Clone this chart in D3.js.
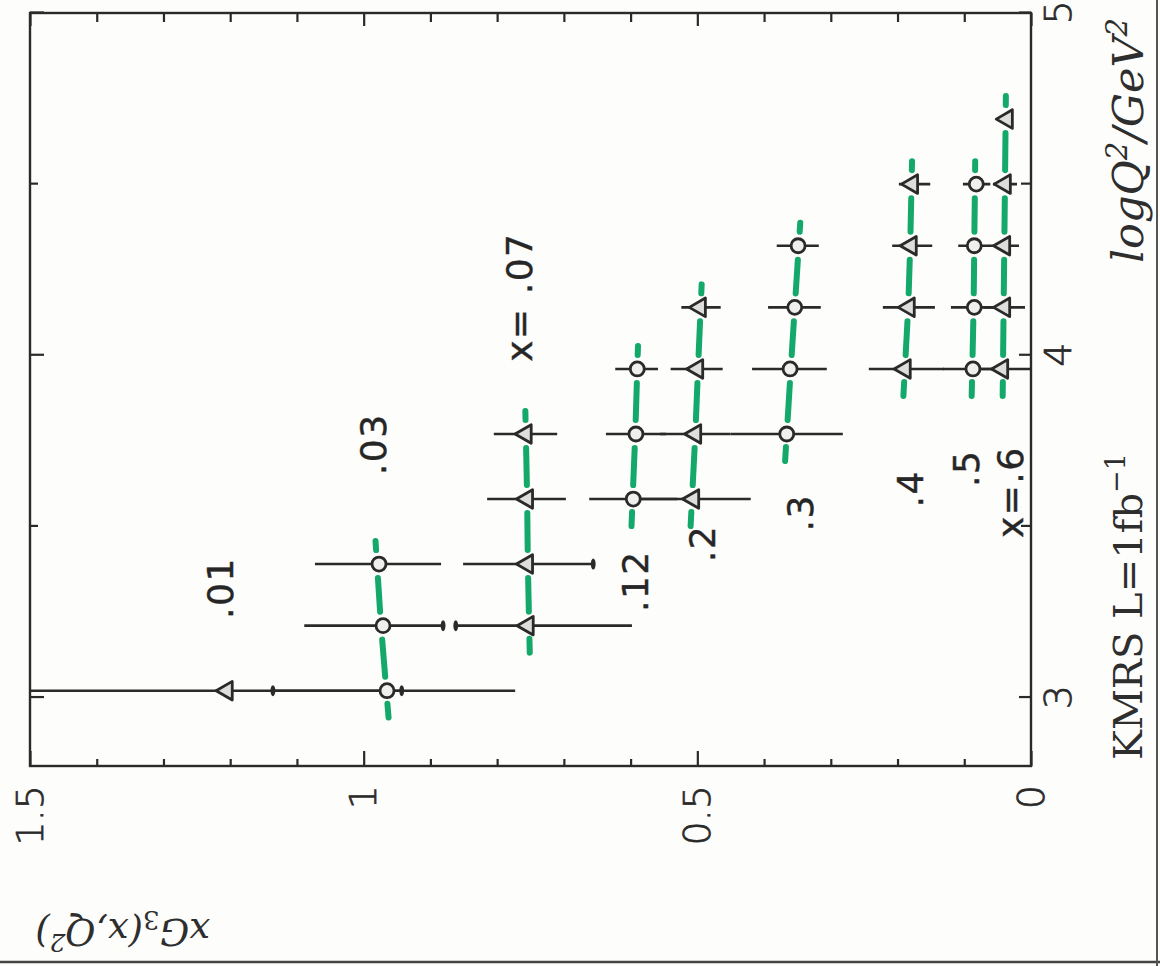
<!DOCTYPE html>
<html>
<head>
<meta charset="UTF-8">
<title>xG3(x,Q2) KMRS L=1fb-1</title>
<script src="https://d3js.org/d3.v7.min.js"></script>
<style>
  body { margin: 0; background: #fdfdfb; }
  svg { display: block; }
</style>
</head>
<body>
<div id="chart"></div>
<script>
// x bins, marker type per bin, label text and where it sits (logQ2, xG3)
const binLabels = [".01", ".03", "x= .07", ".12", ".2", ".3", ".4", ".5", "x=.6"];
const binMarker = ["tri", "circ", "tri", "circ", "tri", "circ", "tri", "circ", "tri"];
const labelQ = [3.32, 3.74, 4.17, 3.34, 3.45, 3.54, 3.61, 3.67, 3.60];
const labelV = [1.215, 0.985, 0.766, 0.592, 0.493, 0.346, 0.181, 0.096, 0.030];

// data points: logQ2 per bin, xG3 value, error bar low / high end
const binQ = [
  [3.02],
  [3.02, 3.21, 3.39],
  [3.21, 3.39, 3.58, 3.77],
  [3.58, 3.77, 3.96],
  [3.58, 3.77, 3.96, 4.14],
  [3.77, 3.96, 4.14, 4.32],
  [3.96, 4.14, 4.32, 4.50],
  [3.96, 4.14, 4.32, 4.50],
  [3.96, 4.14, 4.32, 4.50, 4.69]
];
const binV = [
  [1.205],
  [0.965, 0.971, 0.977],
  [0.754, 0.755, 0.755, 0.757],
  [0.596, 0.592, 0.590],
  [0.506, 0.503, 0.500, 0.496],
  [0.366, 0.361, 0.354, 0.349],
  [0.189, 0.183, 0.180, 0.178],
  [0.087, 0.085, 0.085, 0.082],
  [0.043, 0.040, 0.040, 0.039, 0.036]
];
const binLo = [
  [0.943],
  [0.773, 0.881, 0.884],
  [0.598, 0.656, 0.697, 0.710],
  [0.530, 0.547, 0.559],
  [0.420, 0.450, 0.462, 0.465],
  [0.282, 0.306, 0.315, 0.318],
  [0.130, 0.144, 0.148, 0.151],
  [0.045, 0.055, 0.061, 0.061],
  [0.000, 0.009, 0.018, 0.021, 0.030]
];
const binHi = [
  [1.560],
  [1.136, 1.089, 1.073],
  [0.862, 0.851, 0.815, 0.805],
  [0.662, 0.637, 0.623],
  [0.592, 0.556, 0.540, 0.524],
  [0.450, 0.418, 0.394, 0.381],
  [0.243, 0.222, 0.208, 0.198],
  [0.132, 0.120, 0.109, 0.102],
  [0.086, 0.071, 0.062, 0.057, 0.042]
];
// theory curves (green dashes), at the same logQ2 as the points; none for .01
const theoryV = [
  [],
  [0.966, 0.974, 0.980],
  [0.752, 0.754, 0.755, 0.757],
  [0.597, 0.593, 0.590],
  [0.508, 0.503, 0.499, 0.495],
  [0.366, 0.360, 0.354, 0.348],
  [0.189, 0.184, 0.181, 0.179],
  [0.088, 0.086, 0.085, 0.084],
  [0.042, 0.041, 0.040, 0.039, 0.038]
];
// small bar caps where one error bar ends inside another
const capQ = [3.02, 3.02, 3.21, 3.21, 3.39];
const capV = [1.136, 0.943, 0.881, 0.862, 0.656];

const qMajor = [3, 4, 5];
const qMinor = [3.5, 4.5];
const vMajor = [0, 0.5, 1, 1.5];
const vMinor = [0.1, 0.2, 0.3, 0.4, 0.6, 0.7, 0.8, 0.9, 1.1, 1.2, 1.3, 1.4];

const W = 753, H = 1001;
const ink = "#2a2a2a";
const green = "#14a86a";

const svg = d3.select("#chart").append("svg")
  .attr("width", 1160)
  .attr("height", 966);

svg.append("rect").attr("width", 1160).attr("height", 966).attr("fill", "#fdfdfb");

// edges of the scanned sheet
svg.append("line").attr("x1", 0).attr("x2", 1160).attr("y1", 962).attr("y2", 962)
  .attr("stroke", "#444").attr("stroke-width", 2.5);
svg.append("line").attr("x1", 1157).attr("x2", 1157).attr("y1", 0).attr("y2", 966)
  .attr("stroke", "#555").attr("stroke-width", 2);

// the chart is drawn upright and turned a quarter left, like the page
const g = svg.append("g").attr("transform", "translate(30,766) rotate(-90)");

const x = d3.scaleLinear().domain([2.8, 5]).range([0, W]);
const y = d3.scaleLinear().domain([0, 1.5]).range([H, 0]);

g.append("clipPath").attr("id", "plot")
  .append("rect").attr("width", W).attr("height", H);

function styleAxis(sel) {
  sel.select(".domain").remove();
  sel.selectAll(".tick line").attr("stroke", ink).attr("stroke-width", 2.2);
  sel.selectAll("text")
    .attr("font-family", "'DejaVu Sans', sans-serif")
    .attr("font-weight", 200)
    .attr("font-size", 38)
    .attr("fill", "#2a2a2a")
    .attr("stroke", "#2a2a2a")
    .attr("stroke-width", 0.7);
}

// logQ2 axis (bottom / top)
g.append("g").attr("transform", `translate(0,${H})`)
  .call(d3.axisBottom(x).tickValues(qMajor).tickSizeInner(-12).tickSizeOuter(0)
    .tickPadding(13).tickFormat(d3.format("d")))
  .call(styleAxis);
g.append("g").attr("transform", `translate(0,${H})`)
  .call(d3.axisBottom(x).tickValues(qMinor).tickSizeInner(-10).tickSizeOuter(0).tickFormat(""))
  .call(styleAxis);
g.append("g")
  .call(d3.axisTop(x).tickValues(qMajor).tickSizeInner(-14).tickSizeOuter(0).tickFormat(""))
  .call(styleAxis);
g.append("g")
  .call(d3.axisTop(x).tickValues(qMinor).tickSizeInner(-8).tickSizeOuter(0).tickFormat(""))
  .call(styleAxis);

// xG3 axis (left / right)
g.append("g")
  .call(d3.axisLeft(y).tickValues(vMajor).tickSizeInner(-15).tickSizeOuter(0)
    .tickPadding(19).tickFormat(d3.format("~g")))
  .call(styleAxis);
g.append("g")
  .call(d3.axisLeft(y).tickValues(vMinor).tickSizeInner(-7).tickSizeOuter(0).tickFormat(""))
  .call(styleAxis);
g.append("g").attr("transform", `translate(${W},0)`)
  .call(d3.axisRight(y).tickValues(vMajor).tickSizeInner(-13).tickSizeOuter(0).tickFormat(""))
  .call(styleAxis);
g.append("g").attr("transform", `translate(${W},0)`)
  .call(d3.axisRight(y).tickValues(vMinor).tickSizeInner(-9).tickSizeOuter(0).tickFormat(""))
  .call(styleAxis);

g.append("rect").attr("width", W).attr("height", H)
  .attr("fill", "none").attr("stroke", ink).attr("stroke-width", 2.4);

const plot = g.append("g").attr("clip-path", "url(#plot)");

// green dashed theory curves: a dash between each pair of points plus a stub at each end
theoryV.forEach((tv, i) => {
  if (tv.length < 2) return;
  const pts = binQ[i].map((q, j) => [x(q), y(tv[j])]);
  const unit = (a, b) => {
    const dx = b[0] - a[0], dy = b[1] - a[1], l = Math.hypot(dx, dy);
    return [dx / l, dy / l];
  };
  const segs = [];
  for (let j = 0; j < pts.length - 1; j++) {
    const u = unit(pts[j], pts[j + 1]);
    segs.push([[pts[j][0] + u[0] * 14, pts[j][1] + u[1] * 14],
               [pts[j + 1][0] - u[0] * 14, pts[j + 1][1] - u[1] * 14]]);
  }
  const u0 = unit(pts[0], pts[1]);
  segs.push([[pts[0][0] - u0[0] * 13, pts[0][1] - u0[1] * 13],
             [pts[0][0] - u0[0] * 27, pts[0][1] - u0[1] * 27]]);
  const n = pts.length - 1;
  const un = unit(pts[n - 1], pts[n]);
  segs.push([[pts[n][0] + un[0] * 14, pts[n][1] + un[1] * 14],
             [pts[n][0] + un[0] * 23, pts[n][1] + un[1] * 23]]);
  plot.selectAll(null).data(segs).enter().append("line")
    .attr("x1", d => d[0][0]).attr("y1", d => d[0][1])
    .attr("x2", d => d[1][0]).attr("y2", d => d[1][1])
    .attr("stroke", green).attr("stroke-width", 6).attr("stroke-linecap", "round");
});

// error bars
binQ.forEach((qs, i) => {
  plot.selectAll(null).data(qs.map((q, j) => ({ q, lo: binLo[i][j], hi: binHi[i][j] })))
    .enter().append("line")
    .attr("x1", d => x(d.q)).attr("x2", d => x(d.q))
    .attr("y1", d => y(d.lo)).attr("y2", d => y(d.hi))
    .attr("stroke", ink).attr("stroke-width", 2.6);
});

plot.selectAll(".cap").data(capQ.map((q, k) => ({ q, v: capV[k] })))
  .enter().append("ellipse")
  .attr("cx", d => x(d.q)).attr("cy", d => y(d.v))
  .attr("rx", 5.5).attr("ry", 2.4).attr("fill", ink);

// markers: circles and (upright) triangles
const tri = d3.symbol(d3.symbolTriangle, 150);
binQ.forEach((qs, i) => {
  const pts = qs.map((q, j) => ({ q, v: binV[i][j] }));
  if (binMarker[i] === "circ") {
    g.selectAll(null).data(pts).enter().append("circle")
      .attr("cx", d => x(d.q)).attr("cy", d => y(d.v)).attr("r", 7)
      .attr("fill", "#efefed").attr("stroke", ink).attr("stroke-width", 2.8);
  } else {
    g.selectAll(null).data(pts).enter().append("path")
      .attr("d", tri)
      .attr("transform", d => `translate(${x(d.q)},${y(d.v)})`)
      .attr("fill", "#dededc").attr("stroke", ink).attr("stroke-width", 2.8)
      .attr("stroke-linejoin", "round");
  }
});

// bin labels
g.selectAll(".binlabel").data(binLabels).enter().append("text")
  .attr("x", (d, i) => x(labelQ[i]))
  .attr("y", (d, i) => y(labelV[i]))
  .attr("text-anchor", "middle")
  .attr("dominant-baseline", "central")
  .attr("font-family", "'DejaVu Sans', sans-serif")
  .attr("font-size", 36)
  .attr("letter-spacing", 1.5)
  .attr("fill", "#262626")
  .attr("stroke", "#262626")
  .attr("stroke-width", 0.4)
  .text(d => d);

// axis titles
const serif = "'DejaVu Serif', 'Liberation Serif', serif";
const xt = g.append("text")
  .attr("x", 748).attr("y", H + 112)
  .attr("text-anchor", "end")
  .attr("font-family", serif).attr("font-style", "italic")
  .attr("font-size", 43).attr("fill", "#2e2e2e");
xt.append("tspan").text("logQ");
xt.append("tspan").attr("dy", -16).attr("font-size", 29).text("2");
xt.append("tspan").attr("dy", 16).text("/GeV");
xt.append("tspan").attr("dy", -16).attr("font-size", 29).text("2");

const kt = g.append("text")
  .attr("x", 6).attr("y", H + 111)
  .attr("font-family", serif)
  .attr("font-size", 40).attr("fill", "#2e2e2e");
kt.append("tspan").text("KMRS L=1fb");
kt.append("tspan").attr("dy", -17).attr("font-size", 27).text("\u22121");

const yt = g.append("text")
  .attr("transform", "translate(-153,180) rotate(-90)")
  .attr("font-family", serif).attr("font-style", "italic")
  .attr("font-size", 37).attr("fill", "#2e2e2e");
yt.append("tspan").text("xG");
yt.append("tspan").attr("dy", 8).attr("font-size", 26).attr("font-style", "normal").text("3");
yt.append("tspan").attr("dy", -8).text("(x,Q");
yt.append("tspan").attr("dy", -15).attr("font-size", 25).text("2");
yt.append("tspan").attr("dy", 15).text(")");
</script>
</body>
</html>
